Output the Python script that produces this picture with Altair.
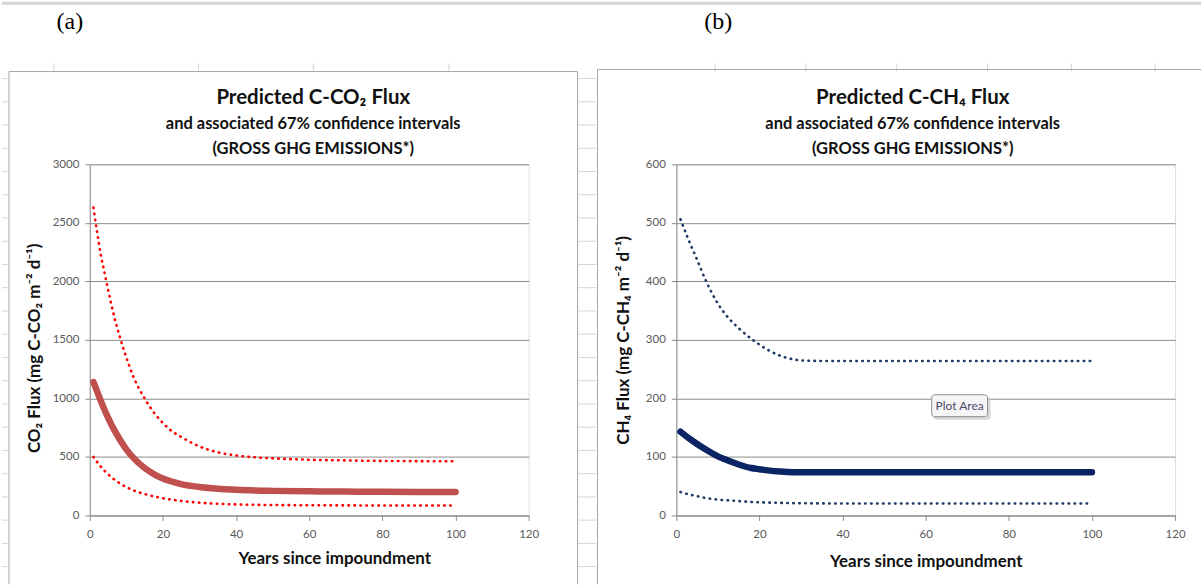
import altair as alt
import pandas as pd

# ---------------- data ----------------
x_ticks = [0, 20, 40, 60, 80, 100, 120]
co2_ticks = [0, 500, 1000, 1500, 2000, 2500, 3000]
ch4_ticks = [0, 100, 200, 300, 400, 500, 600]

co2_upper_years = [1, 2, 3, 4, 5, 6, 7, 8, 10, 12, 15, 18, 20, 22, 25, 30, 35, 40, 45, 50, 60, 70, 80, 90, 100]
co2_upper = [2630, 2420, 2230, 2080, 1930, 1790, 1660, 1550, 1350, 1180, 1000, 860, 790, 730, 670, 590, 540, 512, 497, 488, 476, 470, 466, 464, 463]
co2_mid_years = [1, 2, 3, 4, 5, 6, 8, 10, 12, 15, 18, 20, 25, 30, 35, 40, 50, 60, 70, 80, 90, 100]
co2_mid = [1140, 1060, 980, 905, 835, 770, 660, 565, 490, 405, 345, 315, 268, 243, 228, 219, 210, 206, 204, 202, 201, 200]
co2_lower_years = [1, 2, 3, 4, 5, 6, 7, 9, 11, 13, 16, 20, 25, 30, 35, 40, 50, 60, 70, 80, 90, 100]
co2_lower = [500, 458, 418, 383, 352, 325, 300, 260, 227, 202, 175, 147, 124, 109, 100, 94, 89, 87, 86, 85, 85, 85]

ch4_upper_years = [1, 3, 5, 7, 10, 12, 15, 18, 20, 22, 25, 28, 30, 35, 40, 60, 80, 100]
ch4_upper = [506, 470, 437, 403, 362, 342, 320, 302, 292, 283, 273, 267, 265, 264, 264, 264, 264, 264]
ch4_mid_years = [1, 3, 5, 7, 10, 12, 15, 18, 20, 22, 25, 28, 30, 40, 60, 80, 100]
ch4_mid = [143, 132, 122, 113, 101, 95, 87, 81, 79, 77, 75, 74, 74, 74, 74, 74, 74]
ch4_lower_years = [1, 3, 5, 7, 10, 12, 15, 18, 20, 25, 30, 40, 60, 100]
ch4_lower = [40, 36, 33, 30, 27, 26, 24.5, 23, 22.5, 21.5, 20.8, 20.5, 20.5, 20.5]

# ---------------- styling ----------------
FONT = "Lato"
GRID = "#8C8C8C"
TXT = "#111111"
PW, PH = 440, 352          # left plot area
PW2 = 500                   # right plot area
one = pd.DataFrame({"k": [0]})


def x_enc(title_x, title_y):
    return alt.X(
        "year:Q",
        scale=alt.Scale(domain=[0, 120], nice=False, zero=False),
        axis=alt.Axis(
            orient="bottom", values=x_ticks, grid=False, title="Years since impoundment",
            titleX=title_x, titleY=title_y, titleBaseline="middle", titleAlign="center",
            titleFont=FONT, titleFontSize=17, titleFontWeight="bold", titleColor=TXT,
            labelFont=FONT, labelFontSize=11.5, labelColor="#595959", labelPadding=8,
            labelFlush=False, labelOverlap=False,
            tickSize=5, tickColor=GRID, domainColor=GRID, format="d",
        ),
    )


def y_enc(domain, ticks, title, title_x, title_y):
    return alt.Y(
        "val:Q",
        scale=alt.Scale(domain=domain, nice=False, zero=False),
        axis=alt.Axis(
            orient="left", values=ticks, grid=True, gridColor=GRID, gridWidth=1, title=title,
            titleX=title_x, titleY=title_y, titleAngle=270, titleBaseline="middle",
            titleAlign="center", titleFont=FONT, titleFontSize=17, titleFontWeight="bold",
            titleColor=TXT, labelFont=FONT, labelFontSize=11.5, labelColor="#595959",
            labelPadding=6, labelFlush=False, labelOverlap=False,
            tickSize=5, tickColor=GRID, domainColor=GRID, format="d",
        ),
    )


def series(years, vals, xe, ye, color, width, dash=None):
    df = pd.DataFrame({"year": years, "val": vals})
    kw = dict(color=color, strokeWidth=width, strokeCap="round", strokeJoin="round",
              interpolate="monotone")
    if dash is not None:
        kw["strokeDash"] = dash
    return alt.Chart(df).mark_line(**kw).encode(x=xe, y=ye)


def txt(s, x, y, size, weight="bold", font=FONT, color=TXT):
    return alt.Chart(one).mark_text(
        text=s, fontSize=size, fontWeight=weight, font=font, color=color,
        align="center", baseline="middle",
    ).encode(x=alt.value(x), y=alt.value(y))


def rules(rows, color, width):
    df = pd.DataFrame(rows, columns=["a", "b", "c", "d"])
    return alt.Chart(df).mark_rule(color=color, strokeWidth=width).encode(
        x=alt.X("a:Q", scale=None, axis=None), x2="b:Q",
        y=alt.Y("c:Q", scale=None, axis=None), y2="d:Q",
    )


# ---------------- decorations (spreadsheet background), left view coords ----------------
# invisible frame that fixes the page extent (1204 x 585)
frame = alt.Chart(one).mark_rect(fill="white", fillOpacity=0).encode(
    x=alt.value(-88), x2=alt.value(1116), y=alt.value(-163), y2=alt.value(422)
)
row_ys = [-86 + 23.3 * i for i in range(22)]
row_lines = [[-88, -82, y, y] for y in row_ys] + [[490, 508, y, y] for y in row_ys if y > -92]
col_xs = [-36, 109, 224, 360, 627, 718, 809, 900, 984, 1068]
col_lines = [[x, x, -101, -93] for x in col_xs]
deco = alt.layer(
    frame,
    rules(row_lines, "#D6D6D6", 1),
    rules(col_lines, "#D6D6D6", 1),
    rules([[-88, 1114, -161.5, -161.5]], "#D4D4D4", 3),
    rules(
        [
            [-81, -81, -93, 421], [-81, 489, -93, -93], [489, 489, -93, 421],
            [509, 509, -95, 421], [509, 1114, -95, -95],
        ],
        "#A6A6A6", 1,
    ),
)

# ---------------- left panel ----------------
xl = x_enc(245, 43)
yl = y_enc([0, 3000], co2_ticks, "CO₂ Flux (mg C-CO₂ m⁻² d⁻¹)", -55, 184)
left_data = alt.layer(
    series(co2_upper_years, co2_upper, xl, yl, "#FF0000", 2.6, [0.5, 5.5]),
    series(co2_lower_years, co2_lower, xl, yl, "#FF0000", 2.6, [0.5, 5.5]),
    series(co2_mid_years, co2_mid, xl, yl, "#C0504D", 6.5),
    txt("Predicted C-CO₂ Flux", 224, -66, 20.5),
    txt("and associated 67% confidence intervals", 224, -40, 16.5),
    txt("(GROSS GHG EMISSIONS*)", 224, -15, 16.5),
    txt("(a)", -20, -143, 24, weight="normal", font="Liberation Serif", color="#000000"),
    txt("(b)", 630, -143, 24, weight="normal", font="Liberation Serif", color="#000000"),
)
left = alt.layer(deco, left_data).resolve_scale(x="independent", y="independent").properties(
    width=PW, height=PH
)

# ---------------- right panel ----------------
xr = x_enc(250, 46)
yr = y_enc([0, 600], ch4_ticks, "CH₄ Flux (mg C-CH₄ m⁻² d⁻¹)", -53, 176)
tip_shadow = alt.Chart(one).mark_rect(fill="#C8C8C8", cornerRadius=3, opacity=0.7).encode(
    x=alt.value(258), x2=alt.value(315), y=alt.value(233), y2=alt.value(256)
)
tip_box = alt.Chart(one).mark_rect(fill="#F5F5F8", stroke="#8C8C8C", strokeWidth=1, cornerRadius=3).encode(
    x=alt.value(256), x2=alt.value(312), y=alt.value(231), y2=alt.value(253)
)
right = alt.layer(
    series(ch4_upper_years, ch4_upper, xr, yr, "#1F3864", 2.6, [0.5, 5.5]),
    series(ch4_lower_years, ch4_lower, xr, yr, "#1F3864", 2.6, [0.5, 5.5]),
    series(ch4_mid_years, ch4_mid, xr, yr, "#0B2463", 6.5),
    txt("Predicted C-CH₄ Flux", 237, -66, 20.5),
    txt("and associated 67% confidence intervals", 237, -40, 16.5),
    txt("(GROSS GHG EMISSIONS*)", 237, -15, 16.5),
    tip_shadow, tip_box,
    txt("Plot Area", 284, 242, 12, weight="normal", color="#4A4A66"),
).properties(width=PW2, height=PH)

chart = alt.hconcat(left, right, spacing=148, bounds="flush", padding=0).configure_view(
    stroke=None
).configure(background="white")

chart.save("out.html", embed_options={"renderer": "svg", "actions": False})
